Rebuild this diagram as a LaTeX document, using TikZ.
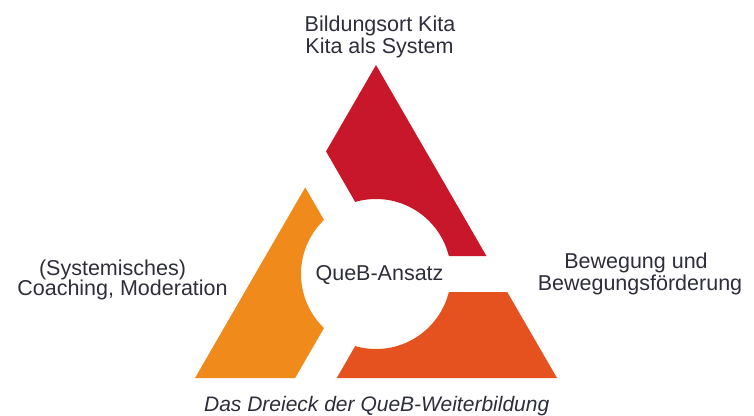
\documentclass[tikz,border=0pt]{standalone}
\usepackage{fontspec}
\setmainfont{Liberation Sans}
\definecolor{qred}{HTML}{C8172A}
\definecolor{qorange}{HTML}{EF8A1B}
\definecolor{qredorange}{HTML}{E5521F}
\definecolor{qtext}{HTML}{2E2E3A}
\tikzset{
  lbl/.style={anchor=base, inner sep=0pt, text=qtext, font=\fontsize{21.5}{22}\selectfont},
  piecefill/.style={even odd rule}
}
\begin{document}
\begin{tikzpicture}[x=1pt,y=-1pt]
\useasboundingbox (0,0) rectangle (754,415);
\coordinate (A) at (376,65);
\coordinate (L) at (195,378);
\coordinate (R) at (557,378);
\coordinate (C) at (376,274);
% red piece (top)
\begin{scope}
  \clip (A) -- (L) -- (R) -- cycle;
  \clip (386.4,256) -- (776,256) -- (776,-300) -- (191.6,-81.4) -- cycle;
  \fill[qred, piecefill] (-100,-400) rectangle (900,800) (C) circle[radius=75];
\end{scope}
% orange piece (left)
\begin{scope}
  \clip (A) -- (L) -- (R) -- cycle;
  \clip (355.2,274) -- (160.4,-63.4) -- (-50,-63.4) -- (-50,611.4) -- (160.4,611.4) -- cycle;
  \fill[qorange, piecefill] (-100,-400) rectangle (900,800) (C) circle[radius=75];
\end{scope}
% red-orange piece (bottom right)
\begin{scope}
  \clip (A) -- (L) -- (R) -- cycle;
  \clip (386.4,292) -- (191.6,629.4) -- (776,629.4) -- (776,292) -- cycle;
  \fill[qredorange, piecefill] (-100,-400) rectangle (900,800) (C) circle[radius=75];
\end{scope}
\node[lbl] (t1) at (380,31.7) {Bildungsort Kita};
\node[lbl] (t2) at (379.5,53.5) {Kita als System};
\node[lbl] (l1) at (112.5,275) {(Systemisches)};
\node[lbl] (l2) at (122.5,295) {Coaching, Moderation};
\node[lbl] (r1) at (636,268.3) {Bewegung und};
\node[lbl] (r2) at (640,290) {Bewegungsförderung};
\node[lbl] (c) at (379.5,280) {QueB-Ansatz};
\node[lbl, font=\fontsize{21}{22}\selectfont\itshape] (cap) at (376.7,411.5) {Das Dreieck der QueB-Weiterbildung};
\end{tikzpicture}
\end{document}
